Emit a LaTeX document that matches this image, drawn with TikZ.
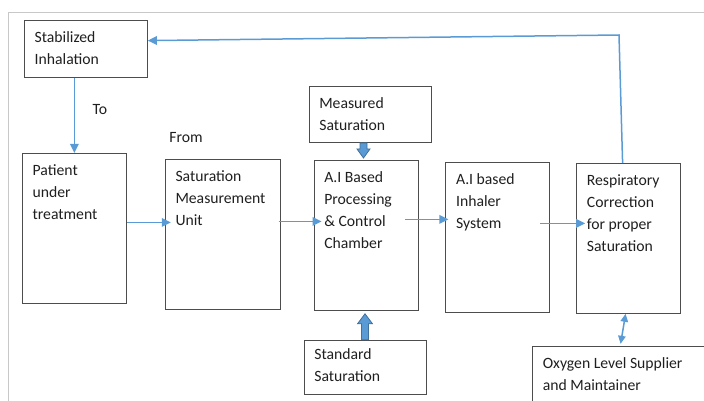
\documentclass[tikz,border=0pt]{standalone}
\usepackage{fontspec}
\setmainfont{Carlito}
\usepackage{xcolor}
\usepackage{tikz}
\usetikzlibrary{arrows.meta,positioning}

\definecolor{flowblue}{HTML}{5B9BD5}
\definecolor{flowedge}{HTML}{41719C}
\definecolor{boxgray}{HTML}{4D4D4D}
\definecolor{framegray}{HTML}{C8C8C8}
\definecolor{inkgray}{HTML}{1F1F1F}

\begin{document}
\begin{tikzpicture}[x=1pt,y=1pt,
 box/.style={draw=boxgray,line width=0.8pt,inner sep=0pt,anchor=north west,
  minimum width=104pt,minimum height=150pt},
 boxtext/.style={anchor=north west,align=left,inner xsep=10.5pt,inner ysep=11.5pt,
  text=inkgray,font=\fontsize{15.7}{22}\selectfont},
 flow/.style={draw=flowblue,line width=1.5pt,-{Triangle[length=9pt,width=8.5pt]}},
 blockarrow/.style={fill=flowblue,draw=flowedge,line width=0.8pt,line join=miter}]
 \useasboundingbox (0,0) rectangle (704,-401);
 \draw[framegray,line width=0.8pt] (704,-12) -- (8,-12) -- (8,-401);

 \node[box] (patient) at (22,-153) {};
 \node[box,minimum width=115pt] (smu) [below right=6pt and 38pt of patient.north east] {};
 \node[box] (chamber) [below right=1pt and 33pt of smu.north east] {};
 \node[box] (inhaler) [below right=2pt and 27pt of chamber.north east] {};
 \node[box] (resp) [below right=1pt and 26pt of inhaler.north east] {};

 \node[box,minimum width=123pt,minimum height=57pt] (stab) [above right=75pt and 2pt of patient.north west] {};
 \node[box,minimum width=122pt,minimum height=56pt] (meas) [above=17pt of chamber.north,xshift=4pt] {};
 \node[box,minimum width=122pt,minimum height=54pt] (std) [below=29pt of chamber.south,xshift=-1pt] {};
 \node[box,minimum width=185pt,minimum height=70pt] (oxy) [below=32pt of resp.south west,anchor=north west,xshift=-44pt] {};

 \node[boxtext] (stabtxt) at (stab.north west) {Stabilized\\Inhalation};
 \node[boxtext] (patienttxt) at (patient.north west) {Patient\\under\\treatment};
 \node[boxtext] (smutxt) at (smu.north west) {Saturation\\Measurement\\Unit};
 \node[boxtext] (chambertxt) at (chamber.north west) {A.I Based\\Processing\\\& Control\\Chamber};
 \node[boxtext] (inhalertxt) at (inhaler.north west) {A.I based\\Inhaler\\System};
 \node[boxtext] (resptxt) at (resp.north west) {Respiratory\\Correction\\for proper\\Saturation};
 \node[boxtext] (meastxt) at (meas.north west) {Measured\\Saturation};
 \node[boxtext,inner ysep=9pt] (stdtxt) at (std.north west) {Standard\\Saturation};
 \node[boxtext] (oxytxt) at (oxy.north west) {Oxygen Level Supplier\\and Maintainer};

 \node[text=inkgray,font=\fontsize{15.7}{22}\selectfont] (tolabel) at (100,-110) {To};
 \node[text=inkgray,font=\fontsize{15.7}{22}\selectfont] (fromlabel) at (186,-138) {From};

 % flow between the boxes
 \draw[flow] (stab.south -| patient.north) -- (patient.north);
 \draw[flow,shorten >=-6pt] ([yshift=6pt]patient.east) -- ([yshift=6pt]patient.east -| smu.west);
 \draw[flow,shorten >=-8pt] ([xshift=-2pt,yshift=13pt]smu.east) -- ([yshift=13pt]smu.east -| chamber.west);
 \draw[flow,shorten >=-3pt] ([xshift=-13pt,yshift=16pt]chamber.east) -- ([yshift=16pt]chamber.east -| inhaler.west);
 \draw[flow,shorten >=-9pt] ([xshift=-10pt,yshift=14pt]inhaler.east) -- ([yshift=14pt]inhaler.east -| resp.west);

 % feedback to the top
 \coordinate (corner) at (619,-35);
 \draw[flow] ([xshift=-6pt]resp.north) -- (corner) -- ([yshift=8.5pt]stab.east);

 \draw[draw=flowblue,line width=1.5pt,{Triangle[length=8pt,width=7.5pt]}-{Triangle[length=8pt,width=7.5pt]}]
  ([xshift=-3pt]resp.south) -- ([xshift=-4.5pt,yshift=2pt]oxy.north);

 % fat arrows into the chamber
 \draw[blockarrow] ([xshift=-10pt]meas.south) -- ++(0,-6) -- ++(-3,0) -- ++(6.5,-9)
  -- ++(6.5,9) -- ++(-3,0) -- ++(0,6) -- cycle;
 \draw[blockarrow] ([xshift=-3.5pt]std.north) -- ++(0,16) -- ++(-4,0) -- ++(7.5,10)
  -- ++(7.5,-10) -- ++(-4,0) -- ++(0,-16) -- cycle;
\end{tikzpicture}
\end{document}
